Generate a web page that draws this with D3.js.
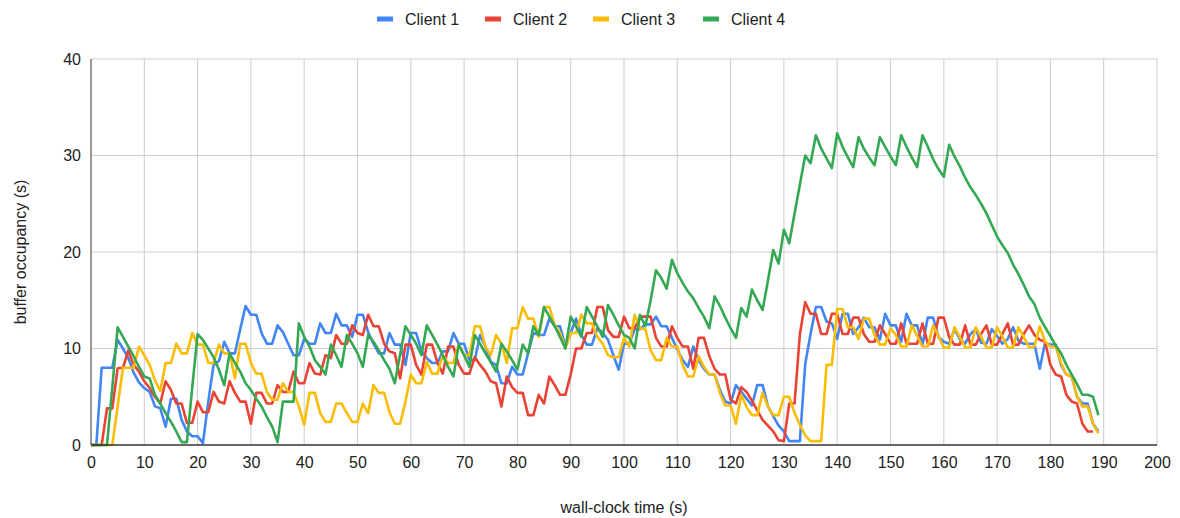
<!DOCTYPE html>
<html>
<head>
<meta charset="utf-8">
<script src="https://cdn.jsdelivr.net/npm/d3@7"></script>
<style>
  body { margin: 0; background: #fff; }
  svg text { font-family: "Liberation Sans", Arial, sans-serif; fill: #222; }
</style>
</head>
<body>
<div id="chart"></div>
<script>
// series values, one per second starting at t = 0
var client1 = [0,0,8,8,8,10.9,10,9,7.5,6.5,5.9,5.5,4,3.8,1.9,4.8,4.8,2.6,1.4,0.9,
  0.9,0.2,4.5,8.3,8.7,10.7,9.5,9.5,12,14.4,13.5,13.5,11.6,10.5,10.5,12.4,11.7,10.5,9.3,9.3,
  11,10.5,10.5,12.6,11.6,11.6,13.6,12.4,12.4,11.2,13.5,13.5,11.7,10.5,9.5,9.5,11.6,10.4,10.4,8.3,
  11.6,11.6,9.8,9,8.5,8.5,9.7,9.7,11.6,10.5,10.5,8.8,8.8,11.4,10.2,8.6,8.3,6.4,6.4,8.1,
  7.3,7.3,9.5,11.6,11.4,11.4,13.1,12.3,12.3,10.2,11.6,13.1,11.4,10.4,10.4,12.1,11.6,10.9,9.3,7.8,
  10.5,10.5,12,12,12.5,12.5,13.3,12.3,12.3,11.1,9.9,8.8,8.1,10.2,8.8,7.9,7.3,7.3,5.7,4.5,
  4.3,6.2,5.5,4.8,4.1,6.2,6.2,4,3,2,1.4,0.4,0.4,0.4,8.4,11.5,14.3,14.3,12.8,12.6,
  11,13.6,13.6,11.5,12.2,13.2,12.2,12.2,10.9,13.6,12.4,12.4,10.7,13.6,12.4,12.4,10.4,13.2,13.2,11.2,
  10.7,10.5,12,11,10.5,11.5,12,10.6,10.5,12,11.3,10.5,11,12.2,10.8,10.5,10.5,10.5,7.9,10.6,
  10.4,10.4,8.3,7.3,7.1,5,4.3,4.3,2.2,1.4];

var client2 = [0,0,0,3.8,3.8,7.95,8,9.8,8.3,7.6,6.6,5.9,5,4.3,6.6,5.7,4.3,4.3,2.3,2.3,
  4.5,3.4,3.4,5.5,4.5,4.3,6.6,5.4,4.5,4.5,2.2,5.4,5.4,4.3,4.3,6.2,5.5,5.5,7.6,6.4,
  6.4,8.5,7.4,7.3,9.3,9,11.4,10.5,10.5,12.4,11.6,11.4,13.5,12.3,12.3,10.5,9.7,9.5,6.9,10.4,
  10.4,8.3,7.3,10.4,10.4,8.5,7.4,10.2,10.2,8.3,7.4,7.4,9.1,8.3,7.6,6.6,6.4,4,7.1,6,
  5.4,5.4,3.1,3.1,5.2,4.3,7.1,6.2,5.2,5.2,7.3,10,10,11.6,11.6,14.3,14.3,11.9,11.2,11.2,
  13.3,12.1,12.1,13.3,13.3,13.3,11.1,10.2,10.2,12.3,11.1,10.2,10.2,7.9,11.1,11.1,9.2,7.9,7.3,7.3,
  4.7,4.3,6,5.5,4.6,3.6,2.6,2,1.4,0.5,0.4,4.3,4.3,11.5,14.8,13.6,13.6,11.5,11.5,13.6,
  13.6,11.5,11.5,13.2,13.2,11.5,10.7,10.7,12.4,11.5,10.5,10.5,12.6,10.5,10.5,10.5,12.6,10.5,10.5,13.2,
  13.2,11.2,10.4,10.4,12.4,10.4,10.4,11.5,12.4,10.4,10.4,11.5,12.6,10.4,10.4,11.5,12.4,11.4,10.9,10.7,
  8.3,7.3,7.1,5.2,4.5,4.3,2.2,1.4,1.4];

var client3 = [0,0,0,0,0,4,8,8,8,10.2,9.3,8.3,6.7,5.6,8.5,8.5,10.5,9.5,9.5,11.6,
  10.4,10.4,8.5,8.5,10.4,9.5,9.5,6.9,10.5,10.5,8.5,7.4,7.4,5.5,4.7,4.7,6.4,5.5,5.5,4,
  2.1,5.4,5.4,3.3,2.4,2.4,4.3,4.3,3.3,2.4,2.4,4.3,3.3,6.2,5.4,5.4,3.4,2.2,2.2,4.5,
  7.3,6.4,6.4,8.6,7.4,7.4,9.3,8.5,8.5,10.4,9.3,9.3,12.3,12.3,10.2,9.3,11.4,10.5,8.5,12.1,
  12.1,14.3,13.1,13.1,11.2,14.3,14.3,12.4,11.6,10,11.6,11.6,13.5,12.6,12.6,11.2,10.5,9.3,9.1,9.1,
  11.1,10.2,13.5,12.1,12,9.8,8.8,8.8,11.1,10.2,10.2,8.3,7.1,7.1,9.2,8.1,7.3,7.3,5.4,4.1,
  4.1,2.2,5.2,3.9,3.1,3.1,5.4,4,3.1,3.1,5,5,3.3,2.1,1,0.4,0.4,0.4,8.3,8.3,
  14.1,14.1,12.2,12.2,11,13.1,13.1,11.4,10.4,10.4,12.1,11.4,10.2,10.2,12.4,11.3,10.2,10.2,12.4,11.3,
  10.1,10.1,12.2,11.2,10.1,10.1,12.2,11.2,10.1,10.1,12.2,11.2,10.1,10.1,12.2,11.2,10.1,10.2,12.3,10.7,
  10.2,10.2,8.5,7.3,7.1,5,4,4,2.2,1.2];

var client4 = [0,0,0,0,6,12.2,11.2,10.2,9.2,8.1,7.1,6.9,5.2,4.3,3.3,2.4,1.4,0.3,0.3,6,
  11.5,10.9,10,9.1,7.8,6.2,9.5,8.5,7.6,6.4,5.7,4.8,4,2.9,1.9,0.3,4.5,4.5,4.5,12.6,
  11.2,10.2,8.8,8.1,7.3,10.4,9.3,8.1,11.4,10.5,9.5,8.1,11.4,10.7,9.8,8.8,7.9,6.4,9.4,12.3,
  11.4,10.5,9.3,12.4,11.4,10.4,9.3,8.1,7.1,10.4,9.3,8.1,11.4,10.5,9.5,8.6,7.6,10.5,9.7,8.8,
  7.8,10.4,9.5,12.3,11.4,14.3,13.3,12.3,11.2,10,13.3,12.3,11.2,14.3,13.3,12.3,11.2,14.5,13.5,12.4,
  11.4,11.1,10,13.5,12.3,15,18.1,17.3,16.2,19.2,17.8,16.8,15.9,15.2,14.2,13.3,12.1,15.4,14.4,13.2,
  12.1,11.1,14.2,13.3,16.1,15,14,17,20.2,18.8,22.3,20.9,24,27,30,29.2,32.1,30.7,29.7,28.7,
  32.3,30.9,29.8,28.8,31.9,30.7,29.8,29,31.9,30.9,29.9,29,32.1,30.9,29.8,28.8,32.1,30.9,29.6,28.6,
  27.8,31.1,29.9,28.9,27.7,26.7,25.9,25,24,22.8,21.6,20.7,19.9,18.7,17.7,16.6,15.4,14.6,13.2,12.2,
  11.3,10.3,9.5,8.3,7.3,6.3,5.2,5.2,5,3.1];

var seriesNames = ["Client 1", "Client 2", "Client 3", "Client 4"];
var seriesColors = ["#4285F4", "#EA4335", "#FBBC04", "#34A853"];
var xTicks = [0,10,20,30,40,50,60,70,80,90,100,110,120,130,140,150,160,170,180,190,200];
var yTicks = [0,10,20,30,40];

var svgWidth = 1180;
var svgHeight = 518;
var margin = { top: 59, right: 23, bottom: 73, left: 91 };
var width = svgWidth - margin.left - margin.right;
var height = svgHeight - margin.top - margin.bottom;

var svg = d3.select("#chart")
  .append("svg")
  .attr("width", svgWidth)
  .attr("height", svgHeight);

var chartGroup = svg.append("g")
  .attr("transform", `translate(${margin.left}, ${margin.top})`);

var xScale = d3.scaleLinear().domain([0, 200]).range([0, width]);
var yScale = d3.scaleLinear().domain([0, 40]).range([height, 0]);

// gridlines
chartGroup.selectAll(".vgrid")
  .data(xTicks.slice(1))
  .enter()
  .append("line")
  .attr("x1", d => xScale(d)).attr("x2", d => xScale(d))
  .attr("y1", 0).attr("y2", height)
  .attr("stroke", "#cccccc").attr("stroke-width", 1);

chartGroup.selectAll(".hgrid")
  .data(yTicks.slice(1))
  .enter()
  .append("line")
  .attr("x1", 0).attr("x2", width)
  .attr("y1", d => yScale(d)).attr("y2", d => yScale(d))
  .attr("stroke", "#cccccc").attr("stroke-width", 1);

// axes
var xAxis = d3.axisBottom(xScale).tickValues(xTicks).tickSize(0).tickPadding(12);
var yAxis = d3.axisLeft(yScale).tickValues(yTicks).tickSize(0).tickPadding(10);

var gx = chartGroup.append("g")
  .attr("transform", `translate(0, ${height})`)
  .call(xAxis);
gx.select(".domain").remove();
gx.selectAll("text").attr("font-size", 16).attr("fill", "#222");

var gy = chartGroup.append("g").call(yAxis);
gy.select(".domain").remove();
gy.selectAll("text").attr("font-size", 16).attr("fill", "#222");

// lines
var line = d3.line()
  .x((d, i) => xScale(i))
  .y(d => yScale(d));

[client1, client2, client3, client4].forEach(function(values, k) {
  chartGroup.append("path")
    .datum(values)
    .attr("fill", "none")
    .attr("stroke", seriesColors[k])
    .attr("stroke-width", 2.6)
    .attr("stroke-linejoin", "round")
    .attr("d", line);
});

// baseline and left axis line
chartGroup.append("line")
  .attr("x1", 0).attr("x2", width)
  .attr("y1", yScale(0)).attr("y2", yScale(0))
  .attr("stroke", "#333").attr("stroke-width", 1.5);
chartGroup.append("line")
  .attr("x1", 0).attr("x2", 0)
  .attr("y1", 0).attr("y2", height)
  .attr("stroke", "#333").attr("stroke-width", 1);

// axis titles
svg.append("text")
  .attr("x", margin.left + width / 2)
  .attr("y", 513)
  .attr("text-anchor", "middle")
  .attr("font-size", 16)
  .text("wall-clock time (s)");

svg.append("text")
  .attr("transform", `translate(26, ${margin.top + height / 2}) rotate(-90)`)
  .attr("text-anchor", "middle")
  .attr("font-size", 16)
  .text("buffer occupancy (s)");

// legend
var legendX = [377, 485, 593, 703];
var legend = svg.selectAll(".legend")
  .data(seriesNames)
  .enter()
  .append("g")
  .attr("transform", (d, i) => `translate(${legendX[i]}, 19)`);

legend.append("rect")
  .attr("x", 0).attr("y", -2.5)
  .attr("width", 16).attr("height", 5)
  .attr("fill", (d, i) => seriesColors[i]);

legend.append("text")
  .attr("x", 28).attr("y", 6)
  .attr("font-size", 16)
  .text(d => d);
</script>
</body>
</html>
